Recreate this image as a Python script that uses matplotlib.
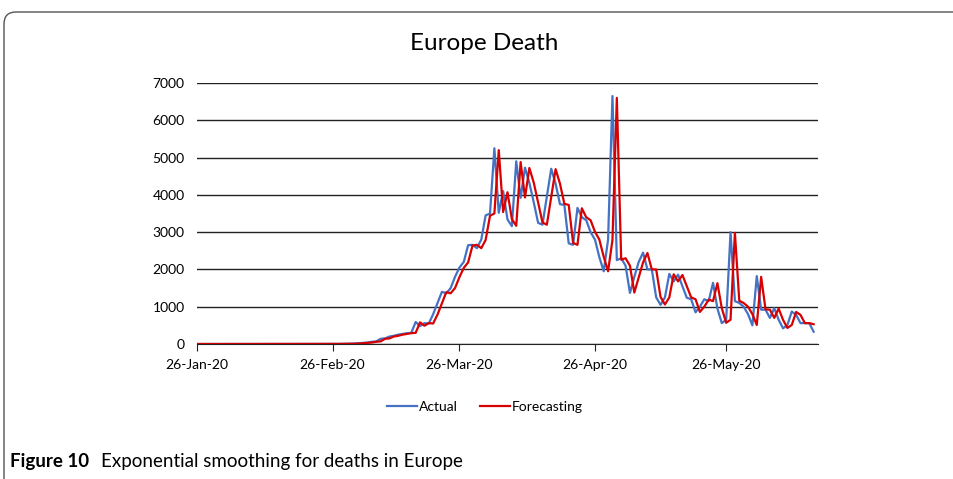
import numpy as np
import pandas as pd
import matplotlib
matplotlib.use('Agg')
import matplotlib.pyplot as plt
import matplotlib.dates as mdates
from matplotlib.patches import FancyBboxPatch

plt.rcParams['font.family'] = ['Lato', 'DejaVu Sans']

# daily series, starting 26-Jan-2020
start_date = '2020-01-26'
actual = (
    [0] * 25
    + [0, 1, 1, 2, 3, 3, 2, 4, 4]
    + [5]
    + [8, 12, 20, 30, 40, 60, 70, 140, 150, 200, 220, 250, 270, 290, 300]
    + [590, 480, 560, 550, 800, 1100, 1400, 1360, 1500, 1800]
    + [2050, 2200, 2650, 2660, 2570, 2800, 3450, 3500, 5250, 3520]
    + [4100, 3340, 3160, 4900, 3920, 4730, 4320, 3800, 3250, 3200]
    + [3960, 4700, 4300, 3750, 3730, 2700, 2660, 3650, 3400, 3320]
    + [3000, 2800, 2330, 1950, 2800, 6650, 2250, 2300, 2100, 1370]
    + [1800, 2200, 2450, 2000, 2000, 1250, 1050, 1250, 1880, 1680]
    + [1860, 1550, 1240, 1200, 850, 1000, 1200, 1150, 1640, 950]
    + [560, 650, 3000, 1150, 1100, 1000, 800, 500, 1820, 920]
    + [920, 700, 960, 650, 420, 510, 870, 780, 560, 560, 560, 330]
)
forecast = (
    [0] * 26
    + [0, 1, 1, 2, 3, 3, 2, 4, 4]
    + [5]
    + [8, 12, 20, 30, 40, 60, 70, 140, 150, 200, 220, 250, 270, 290, 300]
    + [580, 490, 560, 550, 790, 1090, 1390, 1360, 1500, 1790]
    + [2040, 2190, 2640, 2660, 2570, 2790, 3440, 3500, 5200, 3540]
    + [4070, 3350, 3170, 4880, 3930, 4720, 4330, 3800, 3260, 3200]
    + [3950, 4690, 4300, 3760, 3730, 2710, 2660, 3640, 3400, 3320]
    + [3010, 2800, 2340, 1950, 2790, 6600, 2260, 2300, 2100, 1380]
    + [1790, 2190, 2440, 2000, 2000, 1260, 1060, 1250, 1870, 1680]
    + [1850, 1550, 1250, 1200, 860, 1000, 1190, 1150, 1630, 960]
    + [570, 650, 2980, 1160, 1100, 1000, 800, 510, 1800, 930]
    + [920, 700, 950, 650, 430, 510, 860, 780, 560, 560, 530]
)
dates = pd.date_range(start_date, periods=len(actual), freq='D')

title = 'Europe Death'
series_names = ['Actual', 'Forecasting']
y_ticks = [0, 1000, 2000, 3000, 4000, 5000, 6000, 7000]

fig = plt.figure(figsize=(9.54, 4.79), dpi=100)
ax = fig.add_axes([197 / 954, 1 - 344 / 479, (818 - 197) / 954, (344 - 83) / 479])

ax.plot(dates, actual, color='#4472C4', lw=1.6, label=series_names[0])
ax.plot(dates, forecast, color='#D80000', lw=1.6, label=series_names[1])

ax.set_ylim(0, 7000)
ax.set_yticks(y_ticks)
ax.set_xlim(pd.Timestamp('2020-01-26'), pd.Timestamp('2020-06-16'))
ax.xaxis.set_major_locator(mdates.MonthLocator(bymonthday=26))
ax.xaxis.set_major_formatter(mdates.DateFormatter('%d-%b-%y'))
ax.grid(axis='y', color='#222222', lw=1)
ax.set_axisbelow(True)
for s in ['left', 'right', 'top']:
    ax.spines[s].set_visible(False)
ax.spines['bottom'].set_color('#222222')
ax.tick_params(axis='y', length=0, labelsize=10, pad=9)
ax.tick_params(axis='x', length=5, color='#222222', labelsize=10, pad=6)

fig.text(0.508, 1 - 43 / 479, title, ha='center', va='center', fontsize=17.5)

fig.legend(loc='center', bbox_to_anchor=(0.508, 1 - 407 / 479), ncol=2,
           frameon=False, fontsize=10, handlelength=2.2, handletextpad=0.1,
           columnspacing=1.6)

# caption
fig.text(10 / 954, 1 - 461 / 479, 'Figure 10', fontsize=13.5, fontweight='bold', va='center')
fig.text(101 / 954, 1 - 461 / 479, 'Exponential smoothing for deaths in Europe',
         fontsize=13.5, va='center')

# rounded frame around the figure panel
frame = FancyBboxPatch((0.04, -1.0), 11.0, 4.67 + 1.0,
                       boxstyle='round,pad=0,rounding_size=0.12',
                       transform=fig.dpi_scale_trans, fill=False,
                       ec='#555555', lw=1.0, clip_on=False)
fig.patches.append(frame)

fig.savefig('out.png', dpi=100)
